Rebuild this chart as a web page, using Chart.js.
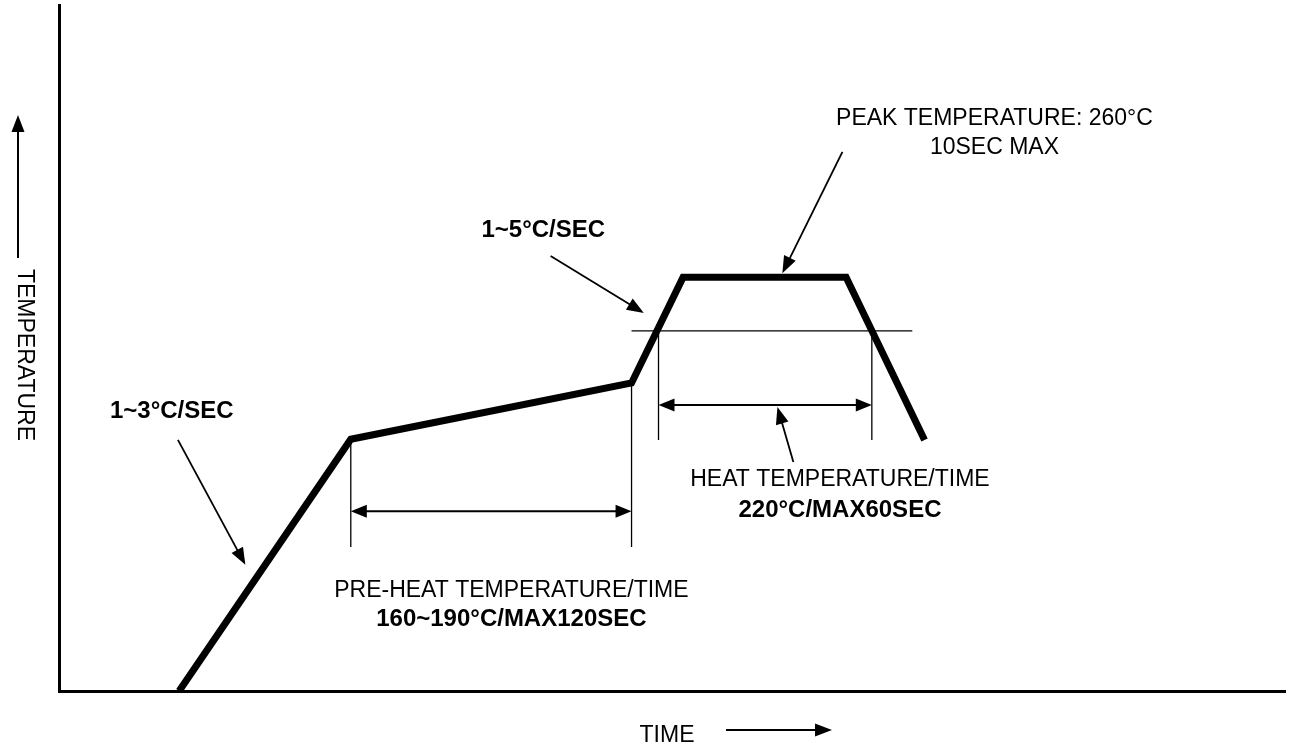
<!DOCTYPE html>
<html>
<head>
<meta charset="utf-8">
<title>Reflow profile</title>
<script src="https://cdn.jsdelivr.net/npm/chart.js@4.4.0/dist/chart.umd.min.js"></script>
<style>
  html, body { margin: 0; padding: 0; background: #fff; }
  #wrap { width: 1290px; height: 751px; position: relative; }
</style>
</head>
<body>
<div id="wrap"><canvas id="chartPerfil"></canvas></div>
<script>
// 1. DATA (chart units, both axes run 0..100)
const profileTime = [9.8, 23.8, 46.7, 50.9, 64.2, 70.6];
const profileTemp = [0, 36.7, 44.9, 60.3, 60.3, 36.6];

// 220°C limit line
const limitTime = [46.7, 69.6];
const limitTemp = [52.5, 52.5];

// extension lines: one time value, from / to temperature
const extTime = [23.8, 46.7, 48.9, 66.3];
const extFrom = [36.7, 44.9, 52.5, 52.5];
const extTo   = [21.0, 21.0, 36.6, 36.6];

// double headed dimension arrows
const dimFrom = [23.8, 48.9];
const dimTo   = [46.7, 66.3];
const dimTemp = [26.2, 41.7];

// pointer arrows, start -> tip
const ptrStartTime = [9.7, 40.1, 63.9, 59.9];
const ptrStartTemp = [36.6, 63.4, 78.6, 33.4];
const ptrTipTime   = [15.2, 47.7, 59.0, 58.6];
const ptrTipTemp   = [18.4, 55.1, 60.9, 41.4];

// notes
const noteText = ['1~3°C/SEC', '1~5°C/SEC', 'PEAK TEMPERATURE: 260°C', '10SEC MAX',
                  'HEAT TEMPERATURE/TIME', '220°C/MAX60SEC',
                  'PRE-HEAT TEMPERATURE/TIME', '160~190°C/MAX120SEC'];
const noteTime = [9.2, 39.5, 76.3, 76.3, 63.7, 63.7, 36.9, 36.9];
const noteTemp = [40.8, 67.2, 83.4, 79.2, 30.8, 26.4, 14.7, 10.5];

const axisX = 'TIME';
const axisY = 'TEMPERATURE';

// 2. HELPERS
const FONT = '"Liberation Sans", Arial, Helvetica, sans-serif';
const boldNotes = [0, 1, 5, 7];

function arrowHead(ctx, x1, y1, x2, y2, len, half) {
    const a = Math.atan2(y2 - y1, x2 - x1);
    const bx = x2 - len * Math.cos(a), by = y2 - len * Math.sin(a);
    ctx.beginPath();
    ctx.moveTo(x2, y2);
    ctx.lineTo(bx + half * Math.sin(a), by - half * Math.cos(a));
    ctx.lineTo(bx - half * Math.sin(a), by + half * Math.cos(a));
    ctx.closePath();
    ctx.fill();
}

function arrow(ctx, x1, y1, x2, y2, lw, len, half) {
    const a = Math.atan2(y2 - y1, x2 - x1);
    ctx.lineWidth = lw;
    ctx.beginPath();
    ctx.moveTo(x1, y1);
    ctx.lineTo(x2 - len * 0.7 * Math.cos(a), y2 - len * 0.7 * Math.sin(a));
    ctx.stroke();
    arrowHead(ctx, x1, y1, x2, y2, len, half);
}

// 3. PLUGIN FOR ARROWS AND TEXT
const notesPlugin = {
    id: 'notes',
    afterDatasetsDraw(chart) {
        const { ctx, chartArea } = chart;
        const sx = chart.scales.x, sy = chart.scales.y;
        ctx.save();
        ctx.fillStyle = '#000';
        ctx.strokeStyle = '#000';

        // dimension arrows
        dimFrom.forEach((t, i) => {
            const x1 = sx.getPixelForValue(t);
            const x2 = sx.getPixelForValue(dimTo[i]);
            const yy = sy.getPixelForValue(dimTemp[i]);
            ctx.lineWidth = 2;
            ctx.beginPath();
            ctx.moveTo(x1 + 10, yy);
            ctx.lineTo(x2 - 10, yy);
            ctx.stroke();
            arrowHead(ctx, x2, yy, x1, yy, 16, 6.5);
            arrowHead(ctx, x1, yy, x2, yy, 16, 6.5);
        });

        // pointer arrows
        ptrStartTime.forEach((t, i) => {
            arrow(ctx,
                sx.getPixelForValue(t), sy.getPixelForValue(ptrStartTemp[i]),
                sx.getPixelForValue(ptrTipTime[i]), sy.getPixelForValue(ptrTipTemp[i]),
                1.8, 17, 6.5);
        });

        // notes
        ctx.textAlign = 'center';
        ctx.textBaseline = 'middle';
        noteText.forEach((txt, i) => {
            const bold = boldNotes.includes(i);
            ctx.font = (bold ? 'bold 24px ' : '23px ') + FONT;
            ctx.fillText(txt, sx.getPixelForValue(noteTime[i]), sy.getPixelForValue(noteTemp[i]));
        });

        // axis titles with arrows
        const cx = (chartArea.left + chartArea.right) / 2 - 5;
        ctx.font = '23px ' + FONT;
        ctx.fillText(axisX, cx, chartArea.bottom + 45);
        arrow(ctx, cx + 59, chartArea.bottom + 39, cx + 165, chartArea.bottom + 39, 2, 17, 6.5);

        const cy = (chartArea.top + chartArea.bottom) / 2 + 7;
        arrow(ctx, chartArea.left - 41, cy - 97, chartArea.left - 41, chartArea.top + 110, 2, 17, 6.5);
        ctx.translate(chartArea.left - 35, cy);
        ctx.rotate(Math.PI / 2);
        ctx.fillText(axisY, 0, 0);
        ctx.restore();
    }
};

// 4. CHART
document.addEventListener('DOMContentLoaded', () => {
    const line = (pts, w) => ({
        data: pts, showLine: true, borderColor: '#000', borderWidth: w,
        pointRadius: 0, fill: false, tension: 0
    });

    const datasets = [];
    datasets.push(line(limitTime.map((t, i) => ({ x: t, y: limitTemp[i] })), 1.3));
    extTime.forEach((t, i) => {
        datasets.push(line([{ x: t, y: extFrom[i] }, { x: t, y: extTo[i] }], 1.3));
    });
    datasets.push(line(profileTime.map((t, i) => ({ x: t, y: profileTemp[i] })), 7));

    const axis = {
        type: 'linear', min: 0, max: 100,
        grid: { display: false, drawTicks: false },
        ticks: { display: false },
        border: { display: true, width: 3, color: '#000' }
    };

    new Chart(document.getElementById('chartPerfil'), {
        type: 'scatter',
        data: { datasets: datasets },
        options: {
            responsive: true, maintainAspectRatio: false, animation: false,
            layout: { padding: { left: 59, right: 5, top: 5, bottom: 60 } },
            plugins: { legend: { display: false }, tooltip: { enabled: false } },
            scales: { x: axis, y: axis }
        },
        plugins: [notesPlugin]
    });
});
</script>
</body>
</html>
